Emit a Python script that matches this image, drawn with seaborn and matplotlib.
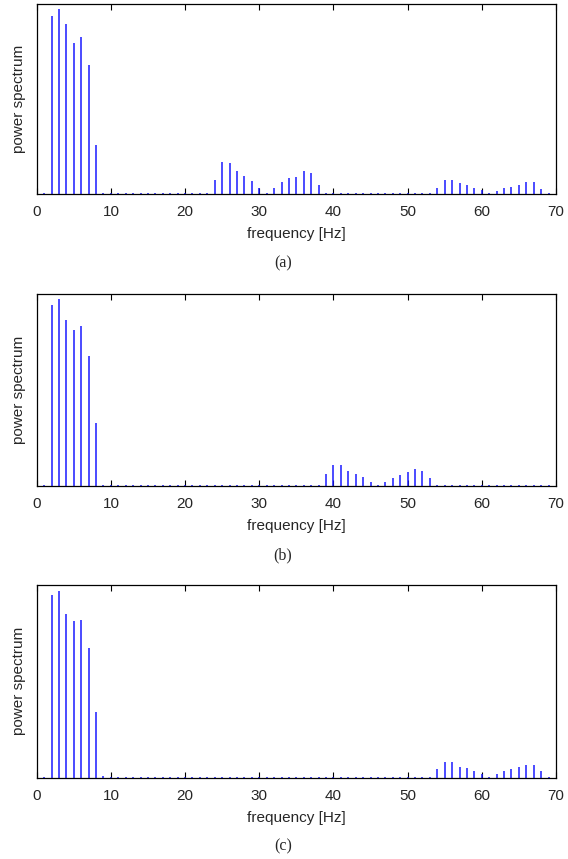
import numpy as np
import pandas as pd
import matplotlib
matplotlib.use("Agg")
import matplotlib.pyplot as plt
import seaborn as sns

# frequency bins 1..69 Hz
freq = list(range(1, 70))

# power (arbitrary units, tiny values = baseline dots)
power_a = [0.8, 178, 185, 170, 151, 157, 129, 49, 0.8, 0.8,
           0.8, 0.8, 0.8, 0.8, 0.8, 0.8, 0.8, 0.8, 0.8, 0.8,
           0.8, 0.8, 0.8, 14, 32, 31, 23, 18, 13, 6,
           0.8, 6, 12, 16, 17, 23, 21, 9, 0.8, 0.8,
           0.8, 0.8, 0.8, 0.8, 0.8, 0.8, 0.8, 0.8, 0.8, 0.8,
           0.8, 0.8, 0.8, 6, 14, 14, 11, 9, 6, 4,
           0.8, 3, 6, 7, 9, 12, 12, 5, 0.8]
power_b = [0.8, 181, 187, 166, 156, 160, 130, 63, 0.8, 0.8,
           0.8, 0.8, 0.8, 0.8, 0.8, 0.8, 0.8, 0.8, 0.8, 0.8,
           0.8, 0.8, 0.8, 0.8, 0.8, 0.8, 0.8, 0.8, 0.8, 0.8,
           0.8, 0.8, 0.8, 0.8, 0.8, 0.8, 0.8, 0.8, 12, 21,
           21, 15, 12, 9, 4, 0.8, 4, 8, 11, 14,
           17, 15, 8, 0.8, 0.8, 0.8, 0.8, 0.8, 0.8, 0.8,
           0.8, 0.8, 0.8, 0.8, 0.8, 0.8, 0.8, 0.8, 0.8]
power_c = [0.8, 183, 187, 164, 157, 158, 130, 66, 2, 0.8,
           0.8, 0.8, 0.8, 0.8, 0.8, 0.8, 0.8, 0.8, 0.8, 0.8,
           0.8, 0.8, 0.8, 0.8, 0.8, 0.8, 0.8, 0.8, 0.8, 0.8,
           0.8, 0.8, 0.8, 0.8, 0.8, 0.8, 0.8, 0.8, 0.8, 0.8,
           0.8, 0.8, 0.8, 0.8, 0.8, 0.8, 0.8, 0.8, 0.8, 0.8,
           0.8, 0.8, 0.8, 9, 16, 16, 11, 10, 7, 4,
           0.8, 4, 7, 9, 11, 13, 13, 7, 0.8]

captions = ["(a)", "(b)", "(c)"]
xticks = [0, 10, 20, 30, 40, 50, 60, 70]

sns.set_style("white")
plt.rcParams["font.family"] = ["Liberation Sans", "DejaVu Sans"]

W, H = 568, 859
fig = plt.figure(figsize=(W / 100, H / 100), dpi=100)

# panel boxes in pixels: (top, bottom)
boxes = [(3.5, 194), (294, 486), (585, 777.5)]
left_px, right_px = 36.7, 556

for (top, bot), pw, cap in zip(boxes, [power_a, power_b, power_c], captions):
    ax = fig.add_axes([left_px / W, 1 - bot / H, (right_px - left_px) / W, (bot - top) / H])
    df = pd.DataFrame({"freq": freq, "power": pw})
    # stems: thin vertical lines from the baseline, seaborn handles the styling
    ax.vlines(df["freq"], 0, df["power"], color="#1a1aff", linewidth=1.1)
    ax.set_xlim(0, 70)
    ax.set_ylim(0, (bot - top))
    ax.set_xticks(xticks)
    ax.set_xticklabels([str(t) for t in xticks], fontsize=11)
    ax.set_yticks([])
    ax.tick_params(axis="x", direction="in", length=4, width=0.8, top=True,
                   bottom=True, pad=8, color="black")
    ax.set_xlabel("frequency [Hz]", fontsize=11, labelpad=6)
    ax.set_ylabel("power spectrum", fontsize=11, labelpad=8)
    for s in ax.spines.values():
        s.set_color("black")
        s.set_linewidth(0.9)
    fig.text(283 / W, 1 - (bot + 69) / H, cap, ha="center", va="center",
             fontsize=11.5, family=["Liberation Serif", "DejaVu Serif"])

fig.savefig("out.png", dpi=100)
